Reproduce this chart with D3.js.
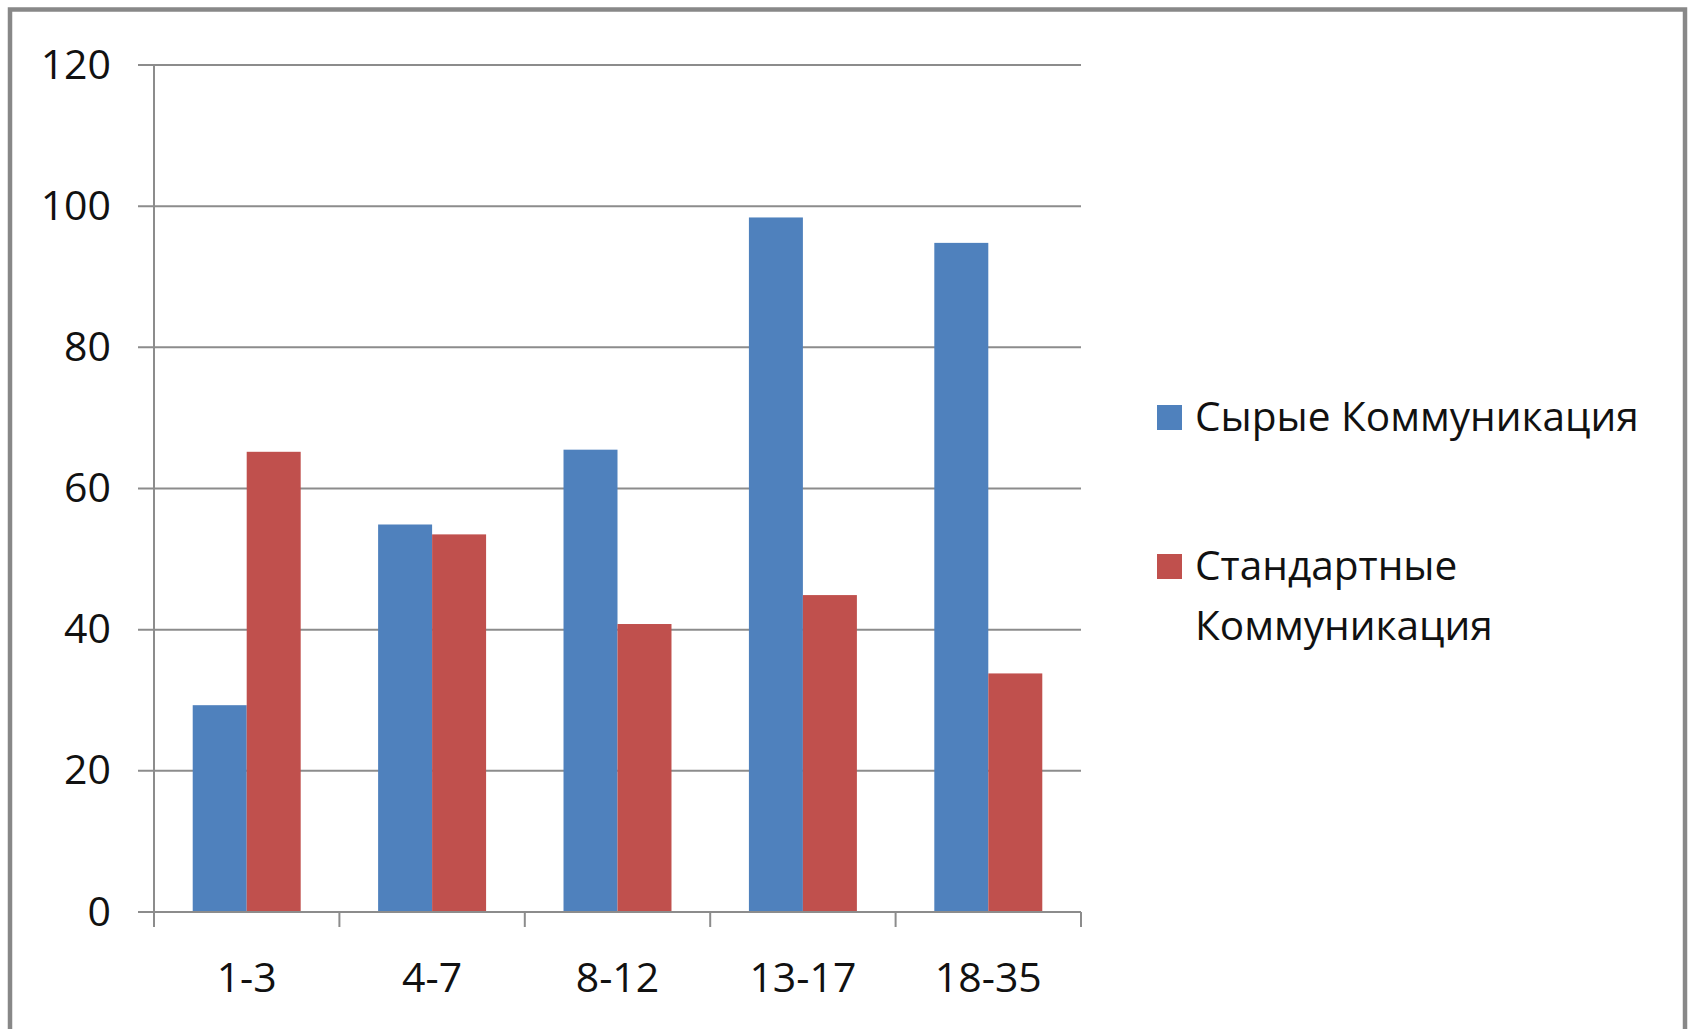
<!DOCTYPE html>
<html>
<head>
<meta charset="utf-8">
<script src="https://cdn.jsdelivr.net/npm/d3@7"></script>
<style>
  html, body { margin: 0; padding: 0; background: #fff; }
  svg { display: block; }
  text { font-family: "Open Sans", "Noto Sans", sans-serif; fill: #111; }
</style>
</head>
<body>
<svg id="chart" width="1692" height="1029"></svg>
<script>
const categories = ["1-3", "4-7", "8-12", "13-17", "18-35"];
const seriesNames = ["Сырые Коммуникация", "Стандартные Коммуникация"];
const rawValues = [29.3, 54.9, 65.5, 98.4, 94.8];
const standardValues = [65.2, 53.5, 40.8, 44.9, 33.8];
const yTicks = [0, 20, 40, 60, 80, 100, 120];
const legendLines = [["Сырые Коммуникация"], ["Стандартные", "Коммуникация"]];
const colors = ["#4F81BD", "#C0504D"];

(function () {
const svg = d3.select("#chart");

// outer frame
svg.append("rect")
  .attr("x", 10).attr("y", 9.5)
  .attr("width", 1675).attr("height", 1040)
  .attr("fill", "#fff")
  .attr("stroke", "#888").attr("stroke-width", 4.5);

const pLeft = 154, pRight = 1081, pTop = 65, pBottom = 912;

const y = d3.scaleLinear().domain([0, 120]).range([pBottom, pTop]);
const x0 = d3.scaleBand().domain(categories).range([pLeft, pRight]).padding(0);
const x1 = d3.scaleBand().domain(seriesNames).range([0, x0.bandwidth()])
  .paddingInner(0).paddingOuter(0.717);

// gridlines
svg.append("g").selectAll("line").data(yTicks).join("line")
  .attr("x1", pLeft - 16).attr("x2", pRight)
  .attr("y1", d => y(d)).attr("y2", d => y(d))
  .attr("stroke", "#8c8c8c").attr("stroke-width", 2);

// y axis labels
const yAxis = d3.axisLeft(y).tickValues(yTicks).tickSize(0).tickPadding(0);
const gy = svg.append("g").attr("transform", `translate(${111},0)`).call(yAxis);
gy.select(".domain").remove();
gy.selectAll("text").attr("font-size", 41).attr("fill", "#111")
  .style("font-family", '"Open Sans", sans-serif');

// y axis line
svg.append("line").attr("x1", pLeft).attr("x2", pLeft)
  .attr("y1", pTop).attr("y2", pBottom)
  .attr("stroke", "#8c8c8c").attr("stroke-width", 2);

// bars
const data = categories.map((c, i) => ({ cat: c, vals: [rawValues[i], standardValues[i]] }));
const groups = svg.append("g").selectAll("g").data(data).join("g")
  .attr("transform", d => `translate(${x0(d.cat)},0)`);
groups.selectAll("rect").data(d => d.vals.map((v, j) => ({ key: seriesNames[j], v, j })))
  .join("rect")
  .attr("x", d => x1(d.key))
  .attr("width", x1.bandwidth())
  .attr("y", d => y(d.v))
  .attr("height", d => y(0) - y(d.v))
  .attr("fill", d => colors[d.j]);

// x axis
const xAxis = d3.axisBottom(x0).tickSize(0).tickPadding(0);
const gx = svg.append("g").attr("transform", `translate(0,${pBottom})`).call(xAxis);
gx.select(".domain").remove();
gx.selectAll("text").attr("font-size", 41).attr("fill", "#111")
  .attr("y", 80).attr("dy", null)
  .style("font-family", '"Open Sans", sans-serif');

svg.append("line").attr("x1", pLeft - 16).attr("x2", pRight)
  .attr("y1", pBottom).attr("y2", pBottom)
  .attr("stroke", "#8c8c8c").attr("stroke-width", 2);
const boundaries = categories.map(c => x0(c)).concat([pRight]);
svg.append("g").selectAll("line").data(boundaries).join("line")
  .attr("x1", d => d).attr("x2", d => d)
  .attr("y1", pBottom).attr("y2", pBottom + 15)
  .attr("stroke", "#8c8c8c").attr("stroke-width", 2);

// legend
const legendY = [417, 566];
const lg = svg.append("g").selectAll("g").data(seriesNames).join("g");
lg.append("rect")
  .attr("x", 1157).attr("y", (d, i) => legendY[i] - 12)
  .attr("width", 25).attr("height", 25)
  .attr("fill", (d, i) => colors[i]);
lg.each(function(d, i) {
  const g = d3.select(this);
  legendLines[i].forEach((line, k) => {
    g.append("text")
      .attr("x", 1195).attr("y", legendY[i] + k * 60)
      .attr("dy", "0.35em")
      .attr("font-size", 40.6)
      .text(line);
  });
});
})();
</script>
</body>
</html>
